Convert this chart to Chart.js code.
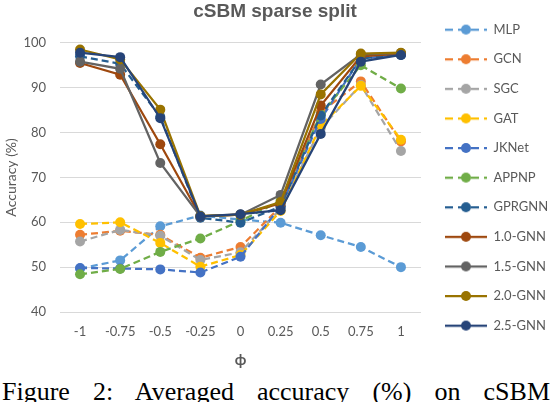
<!DOCTYPE html>
<html>
<head>
<meta charset="utf-8">
<script src="https://cdn.jsdelivr.net/npm/chart.js@4/dist/chart.umd.min.js"></script>
<style>
  body { margin: 0; background: #fff; width: 550px; height: 402px; overflow: hidden; position: relative; }
  #wrap { position: absolute; left: 0; top: 0; width: 550px; height: 375px; }
  #caption {
    position: absolute; left: 2px; top: 377px; width: 548px;
    font-family: "Liberation Serif", serif; font-size: 26px; color: #000;
    white-space: nowrap; text-align: justify; text-align-last: justify;
  }
</style>
</head>
<body>
<div id="wrap"><canvas id="acc"></canvas></div>
<div id="caption">Figure 2: Averaged accuracy (%) on cSBM</div>
<script>
const phi = ['-1', '-0.75', '-0.5', '-0.25', '0', '0.25', '0.5', '0.75', '1'];
const yTicks = [40, 50, 60, 70, 80, 90, 100];

const mlp    = [49.7, 51.5, 59.1, 61.5, 60.6, 59.9, 57.1, 54.5, 50.0];
const gcn    = [57.2, 58.1, 57.2, 52.1, 54.5, 63.5, 84.5, 91.4, 78.0];
const sgc    = [55.7, 58.3, 57.0, 51.6, 53.3, 63.0, 81.0, 90.6, 75.9];
const gat    = [59.6, 60.0, 55.4, 50.1, 52.7, 62.5, 81.5, 90.4, 78.4];
const jknet  = [49.8, 49.7, 49.5, 48.8, 52.3, 63.5, 83.0, 96.5, 97.3];
const appnp  = [48.4, 49.6, 53.4, 56.4, 60.3, 64.8, 84.0, 95.0, 89.8];
const gprgnn = [97.0, 95.3, 83.5, 61.0, 59.9, 63.5, 83.8, 96.5, 97.3];
const gnn10  = [95.5, 92.9, 77.4, 61.3, 61.7, 64.2, 86.0, 97.0, 97.6];
const gnn15  = [95.8, 94.2, 73.2, 61.3, 61.7, 66.1, 90.7, 97.4, 97.7];
const gnn20  = [98.5, 96.3, 85.1, 61.4, 61.7, 64.5, 88.5, 97.6, 97.8];
const gnn25  = [97.8, 96.8, 83.2, 61.3, 61.8, 62.7, 79.7, 95.8, 97.3];

const series = [
  ['MLP', mlp, '#5B9BD5', true],
  ['GCN', gcn, '#ED7D31', true],
  ['SGC', sgc, '#A5A5A5', true],
  ['GAT', gat, '#FFC000', true],
  ['JKNet', jknet, '#4472C4', true],
  ['APPNP', appnp, '#70AD47', true],
  ['GPRGNN', gprgnn, '#255E91', true],
  ['1.0-GNN', gnn10, '#9E480E', false],
  ['1.5-GNN', gnn15, '#636363', false],
  ['2.0-GNN', gnn20, '#997300', false],
  ['2.5-GNN', gnn25, '#264478', false],
];

const dash = [7, 4];

// little line+marker pictures for the legend
function legendIcon(color, dashed) {
  const c = document.createElement('canvas');
  c.width = 42; c.height = 12;
  const g = c.getContext('2d');
  g.strokeStyle = color;
  g.lineWidth = 2.25;
  if (dashed) g.setLineDash([8, 5]);
  g.beginPath();
  g.moveTo(0, 6);
  g.lineTo(42, 6);
  g.stroke();
  g.setLineDash([]);
  g.fillStyle = color;
  g.beginPath();
  g.arc(21, 6, 5, 0, Math.PI * 2);
  g.fill();
  return c;
}
const icons = series.map(s => legendIcon(s[2], s[3]));

const datasets = series.map((s, i) => ({
  label: s[0],
  data: s[1],
  borderColor: s[2],
  backgroundColor: s[2],
  pointBackgroundColor: s[2],
  pointBorderColor: s[2],
  borderWidth: 2.25,
  borderDash: s[3] ? dash : [],
  pointRadius: 5,
  pointBorderWidth: 0,
  tension: 0,
  order: series.length - i, // later series drawn on top, like the original
}));

// keep a gap between plot and legend, and move the legend list down a bit
const legendNudge = {
  id: 'legendNudge',
  beforeLayout(chart) {
    const lg = chart.legend;
    if (!lg || lg._nudged) return;
    lg._nudged = true;
    const fit = lg.fit, draw = lg.draw;
    lg.fit = function () { fit.call(this); this.width = 129; };
    lg.draw = function () {
      const c = this.ctx;
      c.save();
      c.translate(7.4, 6.5);
      draw.call(this);
      c.restore();
    };
  },
};

const gray = '#595959';
const ctx = document.getElementById('acc').getContext('2d');
new Chart(ctx, {
  type: 'line',
  data: { labels: phi, datasets: datasets },
  plugins: [legendNudge],
  options: {
    responsive: true,
    maintainAspectRatio: false,
    animation: false,
    layout: { padding: 0 },
    plugins: {
      title: {
        display: true,
        text: 'cSBM sparse split',
        color: gray,
        font: { family: 'Liberation Sans', size: 19, weight: 'bold' },
        padding: { top: 0, bottom: 20 },
      },
      legend: {
        position: 'right',
        align: 'start',
        labels: {
          color: gray,
          font: { family: 'Lato', size: 13 },
          usePointStyle: true,
          pointStyleWidth: 42,
          padding: 16.6,
          sort: (a, b) => a.datasetIndex - b.datasetIndex,
          generateLabels: (chart) => {
            const items = Chart.defaults.plugins.legend.labels.generateLabels(chart);
            items.forEach(it => { it.pointStyle = icons[it.datasetIndex]; });
            return items;
          },
        },
      },
      tooltip: { enabled: false },
    },
    scales: {
      x: {
        offset: true,
        grid: { display: false, drawTicks: false },
        border: { display: false },
        ticks: { color: gray, font: { family: 'Lato', size: 13 }, padding: 12 },
        title: { display: true, text: 'ϕ', color: gray, font: { family: 'Lato', size: 15, weight: 'bold' }, padding: { top: 4, bottom: 6 } },
        afterFit: (scale) => { scale.height = 63; },
      },
      y: {
        min: 40,
        max: 100,
        afterBuildTicks: (axis) => { axis.ticks = yTicks.map(v => ({ value: v })); },
        grid: { color: '#D9D9D9', lineWidth: 1, drawTicks: false },
        border: { display: false },
        ticks: { color: gray, font: { family: 'Lato', size: 13 }, padding: 14 },
        title: { display: true, text: 'Accuracy (%)', color: gray, font: { family: 'Lato', size: 14 }, padding: { top: 2.6, bottom: 0 } },
        afterFit: (scale) => { scale.width = 60; },
      },
    },
  },
});
</script>
</body>
</html>
